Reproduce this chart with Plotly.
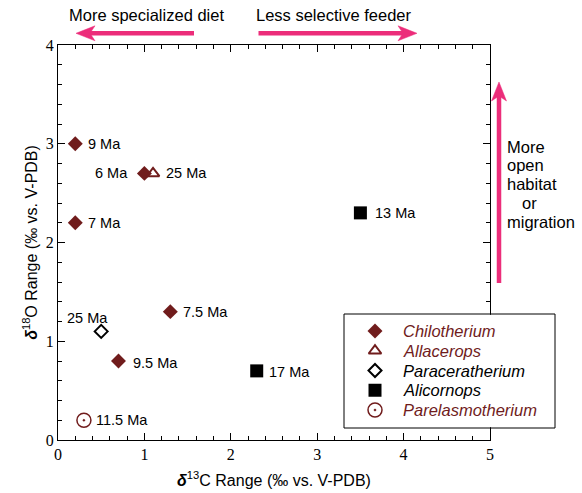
import plotly.graph_objects as go

# ---------------- data ----------------
chil_x = [0.2, 1.0, 0.2, 1.3, 0.7]
chil_y = [3.0, 2.7, 2.2, 1.3, 0.8]
chil_lab = ["9 Ma", "6 Ma", "7 Ma", "7.5 Ma", "9.5 Ma"]

alla_x = [1.1]
alla_y = [2.7]
alla_lab = ["25 Ma"]

para_x = [0.5]
para_y = [1.1]
para_lab = ["25 Ma"]

alic_x = [3.5, 2.3]
alic_y = [2.3, 0.7]
alic_lab = ["13 Ma", "17 Ma"]

parel_x = [0.3]
parel_y = [0.2]
parel_lab = ["11.5 Ma"]

legend_names = ["Chilotherium", "Allacerops", "Paraceratherium", "Alicornops", "Parelasmotherium"]
x_ticks = [0, 1, 2, 3, 4, 5]
y_ticks = [0, 1, 2, 3, 4]

# ---------------- style ----------------
RED = "#701c1c"
PINK = "#ec2d7a"
SANS = "Liberation Sans, Arial, sans-serif"
SERIF = "Liberation Serif, Times New Roman, serif"

W, H = 582, 493
ML, MR, MT, MB = 58, 92, 45, 53
PW, PH = W - ML - MR, H - MT - MB

def px(x):  # pixel -> paper x
    return (x - ML) / PW

def py(y):  # pixel -> paper y
    return (MT + PH - y) / PH

styles = [
    dict(symbol="diamond", size=11.5, color=RED, line=dict(width=0, color=RED)),
    dict(symbol="triangle-up-open", size=11, color=RED, line=dict(width=2, color=RED)),
    dict(symbol="diamond-open", size=10, color="black", line=dict(width=2, color="black")),
    dict(symbol="square", size=13, color="black", line=dict(width=0, color="black")),
    dict(symbol="circle-open-dot", size=14, color=RED, line=dict(width=1.5, color=RED)),
]
text_colors = [RED, RED, "black", "black", RED]

fig = go.Figure()

series = [(chil_x, chil_y), (alla_x, alla_y), (para_x, para_y), (alic_x, alic_y), (parel_x, parel_y)]
for (xs, ys), st, name in zip(series, styles, legend_names):
    fig.add_trace(go.Scatter(x=xs, y=ys, mode="markers", name=name, marker=st,
                             showlegend=False, cliponaxis=False))

# point labels
label_specs = []
for x, y, t in zip(chil_x, chil_y, chil_lab):
    if t == "6 Ma":
        label_specs.append((x, y, t, "right", -14.5, 0))
    elif t == "9.5 Ma":
        label_specs.append((x, y, t, "left", 13, -1.5))
    else:
        label_specs.append((x, y, t, "left", 10.5, 0))
label_specs.append((alla_x[0], alla_y[0], alla_lab[0], "left", 10.5, 0))
label_specs.append((para_x[0], para_y[0], para_lab[0], "center", -13.5, 13))
label_specs.append((alic_x[0], alic_y[0], alic_lab[0], "left", 12.5, 0))
label_specs.append((alic_x[1], alic_y[1], alic_lab[1], "left", 10, -1))
label_specs.append((parel_x[0], parel_y[0], parel_lab[0], "left", 10, 0))

annotations = []
for x, y, t, anc, xs, ys in label_specs:
    annotations.append(dict(x=x, y=y, xref="x", yref="y", text=t, showarrow=False,
                            xanchor=anc, yanchor="middle", xshift=xs, yshift=ys,
                            font=dict(family=SANS, size=14.5, color="black")))

# legend (manual, on a hidden overlay axis measured in plot pixels)
leg_rows_y = [109, 89.25, 69.5, 49.75, 30]
leg_sym_x = 375 - ML
for name, st, ry in zip(legend_names, styles, leg_rows_y):
    fig.add_trace(go.Scatter(x=[leg_sym_x], y=[ry], mode="markers", marker=st,
                             xaxis="x2", yaxis="y2", showlegend=False, cliponaxis=False))
for name, c, ry in zip(legend_names, text_colors, leg_rows_y):
    annotations.append(dict(x=px(401), y=ry / PH, xref="paper", yref="paper", text="<i>%s</i>" % name,
                            showarrow=False, xanchor="left", yanchor="middle",
                            font=dict(family=SANS, size=16.5, color=c)))

# top texts
annotations += [
    dict(x=px(146), y=py(15), xref="paper", yref="paper", text="More specialized diet",
         showarrow=False, xanchor="center", yanchor="middle", font=dict(family=SANS, size=16.5, color="black")),
    dict(x=px(334), y=py(15), xref="paper", yref="paper", text="Less selective feeder",
         showarrow=False, xanchor="center", yanchor="middle", font=dict(family=SANS, size=16.5, color="black")),
]
side_lines = [("More", 505, 147), ("open", 505, 165), ("habitat", 505, 184), ("or", 520, 203), ("migration", 505, 222)]
for t, lx, ly in side_lines:
    annotations.append(dict(x=px(lx), y=py(ly), xref="paper", yref="paper", text=t, showarrow=False,
                            xanchor="left", yanchor="middle", font=dict(family=SANS, size=16.5, color="black")))

# arrows as shapes (pixel geometry converted to paper coords)
HEAD_LEN, HEAD_HALF, NOTCH = 19, 7.5, 5
def arrow(tail, tip):
    (tx, ty), (hx, hy) = tail, tip
    d = ((hx - tx) ** 2 + (hy - ty) ** 2) ** 0.5
    ux, uy = (hx - tx) / d, (hy - ty) / d
    nx, ny = -uy, ux
    bx, by = hx - ux * HEAD_LEN, hy - uy * HEAD_LEN
    mx, my = hx - ux * (HEAD_LEN - NOTCH), hy - uy * (HEAD_LEN - NOTCH)
    pts = [(hx, hy), (bx + nx * HEAD_HALF, by + ny * HEAD_HALF), (mx, my), (bx - nx * HEAD_HALF, by - ny * HEAD_HALF)]
    path = "M " + " L ".join("%.5f,%.5f" % (px(a), py(b)) for a, b in pts) + " Z"
    return [
        dict(type="line", xref="paper", yref="paper", x0=px(tx), y0=py(ty), x1=px(mx + ux), y1=py(my + uy),
             line=dict(color=PINK, width=4.5), layer="above"),
        dict(type="path", xref="paper", yref="paper", path=path, fillcolor=PINK,
             line=dict(color=PINK, width=0.5), layer="above"),
    ]

shapes = []
shapes += arrow((194, 33.3), (76, 33.3))
shapes += arrow((258.5, 33.3), (417, 33.3))
shapes += arrow((499, 283), (499, 82))
shapes += [
    # white strip hiding the right axis inside the legend box
    dict(type="rect", xref="paper", yref="paper", x0=px(479), x1=px(493), y0=py(427.3), y1=py(314.7),
         fillcolor="white", line=dict(width=0), layer="above"),
    dict(type="rect", xref="paper", yref="paper", x0=px(344), x1=px(555), y0=py(428), y1=py(314),
         fillcolor="rgba(0,0,0,0)", line=dict(width=1, color="black"), layer="above"),
]

tick_common = dict(showgrid=False, zeroline=False, automargin=False,
                   ticks="inside", ticklen=7, tickwidth=1, tickcolor="black",
                   minor=dict(dtick=0.2, ticks="inside", ticklen=4, tickwidth=1, tickcolor="black"))

fig.update_layout(
    width=W, height=H,
    margin=dict(l=ML, r=MR, t=MT, b=MB, autoexpand=False),
    paper_bgcolor="white", plot_bgcolor="white",
    showlegend=False,
    xaxis=dict(range=[0, 5], tickvals=x_ticks, showline=True, linecolor="black", linewidth=1, mirror=True,
               tickfont=dict(family=SERIF, size=16, color="black"), **tick_common,
               title=dict(text="<b><i>δ</i></b><sup>13</sup>C Range (‰ vs. V-PDB)",
                          font=dict(family=SANS, size=16, color="black"), standoff=12)),
    yaxis=dict(range=[0, 4], tickvals=y_ticks, showline=True, linecolor="black", linewidth=1, mirror=True,
               tickfont=dict(family=SERIF, size=16, color="black"), **tick_common,
               title=dict(text="<b><i>δ</i></b><sup>18</sup>O Range (‰ vs. V-PDB)",
                          font=dict(family=SANS, size=16, color="black"), standoff=4)),
    xaxis2=dict(range=[0, PW], overlaying="x", visible=False),
    yaxis2=dict(range=[0, PH], overlaying="y", visible=False),
    xaxis3=dict(range=[0, 5], tickvals=x_ticks, overlaying="x", side="top", anchor="y",
                showline=False, showticklabels=False, **tick_common),
    yaxis3=dict(range=[0, 4], tickvals=y_ticks, overlaying="y", side="right", anchor="x",
                showline=False, showticklabels=False, **tick_common),
    annotations=annotations,
    shapes=shapes,
)
# invisible trace to activate the mirrored tick axes
fig.add_trace(go.Scatter(x=[None], y=[None], xaxis="x3", yaxis="y3", showlegend=False, hoverinfo="skip"))

fig.write_html("out.html")
